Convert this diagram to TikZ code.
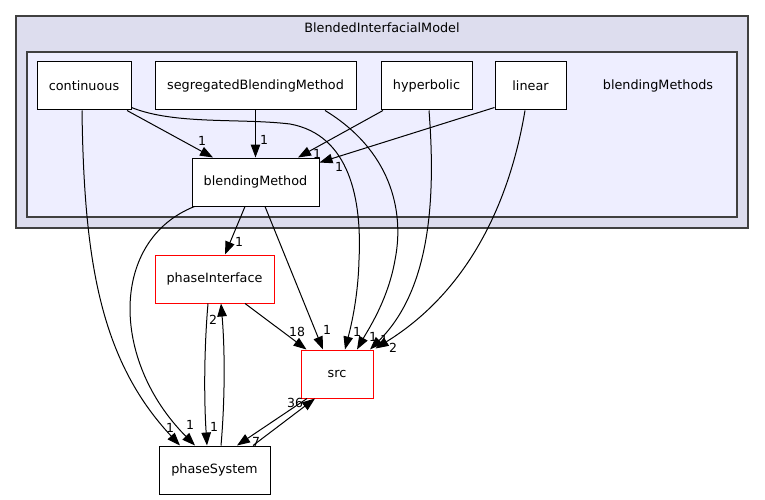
\documentclass[tikz,border=0pt]{standalone}
\usepackage{fontspec}
\setmainfont{DejaVu Sans}
\usetikzlibrary{arrows.meta}
\definecolor{outerfill}{HTML}{DDDDEE}
\definecolor{innerfill}{HTML}{EEEEFF}
\definecolor{framegray}{HTML}{404040}

\begin{document}
\begin{tikzpicture}[x=1pt,y=-1pt,
 dir/.style={draw=black,fill=white,line width=1pt,minimum height=48pt,
 inner sep=0pt,font=\fontsize{12.8}{15}\selectfont},
 extdir/.style={dir,draw=red},
 frame/.style={draw=framegray,line width=1.3pt},
 ttl/.style={inner sep=0pt,font=\fontsize{12.8}{15}\selectfont},
 lbl/.style={inner sep=0pt,font=\fontsize{12.5}{14}\selectfont},
 arr/.style={-{Triangle[length=13pt,width=9.5pt]},line width=1pt}]
\useasboundingbox (0,0) rectangle (765,500);
\draw[frame,fill=outerfill] (16,16) rectangle (748,228);
\node[ttl] (outerttl) at (382,28) {BlendedInterfacialModel};
\draw[frame,fill=innerfill] (27,52) rectangle (737,217);
\node[ttl] (innerttl) at (658,86) {blendingMethods};
\node[dir,minimum width=94pt] (continuous) at (84,86) {continuous};
\node[dir,minimum width=201pt] (segregated) at (255.5,86) {segregatedBlendingMethod};
\node[dir,minimum width=91pt] (hyperbolic) at (426.5,86) {hyperbolic};
\node[dir,minimum width=71pt] (linear) at (530.5,86) {linear};
\node[dir,minimum width=127pt] (blendingMethod) at (255.5,182) {blendingMethod};
\node[extdir,minimum width=119pt] (phaseInterface) at (214.5,279) {phaseInterface};
\node[extdir,minimum width=72pt] (src) at (337,374) {src};
\node[dir,minimum width=111pt] (phaseSystem) at (214.5,470) {phaseSystem};
\draw[arr] ([xshift=43pt]continuous.south) -- ([xshift=-42.5pt]blendingMethod.north)
 node[lbl] (l-cont-bm) at (202,141) {1};
\draw[arr] ([yshift=3pt]continuous.south east) .. controls (175,125) and (240,118) .. (290,124)
 .. controls (350,135) and (362,200) .. (359,260)
 .. controls (358,300) and (350,330) .. ([xshift=8pt]src.north)
 node[lbl] (l-cont-src) at (357,332) {1};
\draw[arr] ([xshift=-2pt]continuous.south) .. controls (84,260) and (100,360) .. ([xshift=-34.5pt]phaseSystem.north)
 node[lbl] (l-cont-ps) at (170,428) {1};
\draw[arr] (segregated.south) -- (blendingMethod.north)
 node[lbl] (l-seg-bm) at (264,140) {1};
\draw[arr] ([xshift=69.5pt]segregated.south) .. controls (390,150) and (405,210) .. (395,260)
 .. controls (388,300) and (368,330) .. ([xshift=20pt]src.north)
 node[lbl] (l-seg-src) at (373,337) {1};
\draw[arr] ([xshift=-43.5pt]hyperbolic.south) -- ([xshift=42.5pt]blendingMethod.north)
 node[lbl] (l-hyp-bm) at (317,154) {1};
\draw[arr] ([xshift=2.5pt]hyperbolic.south) .. controls (436,200) and (430,290) .. ([xshift=33pt]src.north)
 node[lbl] (l-hyp-src) at (384,340) {1};
\draw[arr] ([yshift=3pt]linear.south west) -- ([yshift=-5pt]blendingMethod.north east)
 node[lbl] (l-lin-bm) at (339,167) {1};
\draw[arr] ([xshift=-5.5pt]linear.south) .. controls (510,200) and (470,290) .. ([xshift=2pt,yshift=1pt]src.north east)
 node[lbl] (l-lin-src) at (393,348) {2};
\draw[arr] ([xshift=-10.5pt]blendingMethod.south) -- ([xshift=10.5pt]phaseInterface.north)
 node[lbl] (l-bm-pi) at (239,242) {1};
\draw[arr] ([xshift=9.5pt]blendingMethod.south) -- ([xshift=-14pt]src.north)
 node[lbl] (l-bm-src) at (327,330) {1};
\draw[arr] ([xshift=3pt]blendingMethod.south west) .. controls (110,240) and (110,360) .. ([xshift=-19.5pt]phaseSystem.north)
 node[lbl] (l-bm-ps) at (190,425) {1};
\draw[arr] ([xshift=30.5pt]phaseInterface.south) -- ([xshift=6pt]src.north west)
 node[lbl] (l-pi-src) at (297,332) {18};
\draw[arr] ([xshift=-6.5pt]phaseInterface.south) .. controls (204,350) and (204,400) .. ([xshift=-7.5pt]phaseSystem.north)
 node[lbl] (l-pi-ps) at (214,427) {1};
\draw[arr] ([xshift=6.5pt]phaseSystem.north) .. controls (225,400) and (225,350) .. ([xshift=6.5pt]phaseInterface.south)
 node[lbl] (l-ps-pi) at (213,320) {2};
\draw[arr] ([xshift=38.5pt]phaseSystem.north) -- ([xshift=-22pt]src.south)
 node[lbl] (l-ps-src) at (295,403) {36};
\draw[arr] ([xshift=-30pt]src.south) -- ([xshift=22.5pt]phaseSystem.north)
 node[lbl] (l-src-ps) at (256,442) {7};
\end{tikzpicture}
\end{document}
